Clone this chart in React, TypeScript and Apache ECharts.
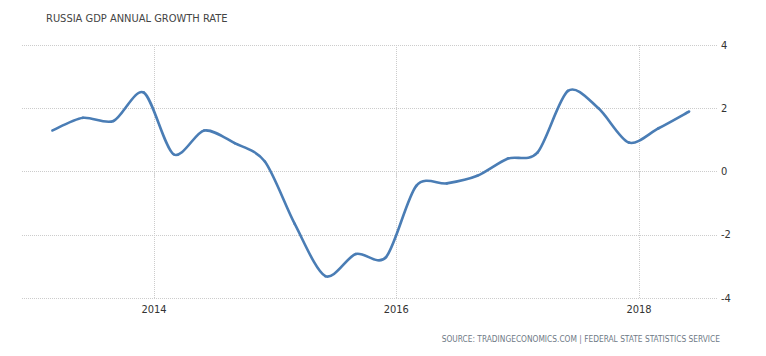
import React, { useEffect, useRef } from "react";
import * as echarts from "echarts";

const dates: string[] = [
  "2013-03-01", "2013-06-01", "2013-09-01", "2013-12-01",
  "2014-03-01", "2014-06-01", "2014-09-01", "2014-12-01",
  "2015-03-01", "2015-06-01", "2015-09-01", "2015-12-01",
  "2016-03-01", "2016-06-01", "2016-09-01", "2016-12-01",
  "2017-03-01", "2017-06-01", "2017-09-01", "2017-12-01",
  "2018-03-01", "2018-06-01",
];
const growth: number[] = [
  1.3, 1.7, 1.6, 2.5,
  0.55, 1.3, 0.9, 0.32,
  -1.65, -3.3, -2.6, -2.7,
  -0.45, -0.37, -0.13, 0.41,
  0.6, 2.55, 2.0, 0.92,
  1.37, 1.9,
];
const xTickDates: string[] = ["2014-01-01", "2016-01-01", "2018-01-01"];
const yTicks: number[] = [-4, -2, 0, 2, 4];

const TITLE = "RUSSIA GDP ANNUAL GROWTH RATE";
const SOURCE = "SOURCE: TRADINGECONOMICS.COM | FEDERAL STATE STATISTICS SERVICE";

const DAY = 86400000;
const LINE_COLOR = "#4a7db5";
const TENSION = 0.145;

type Pt = [number, number];

export default function App() {
  const ref = useRef<HTMLDivElement>(null);
  useEffect(() => {
    if (!ref.current) return;
    const chart = echarts.init(ref.current, null, { renderer: "svg" });
    const tickTs = xTickDates.map((d) => new Date(d + "T00:00:00Z").getTime());
    const xMin = tickTs[0] - 397.6 * DAY;
    const xMax = tickTs[2] + 235 * DAY;
    const font = "'DejaVu Sans Condensed', 'DejaVu Sans', sans-serif";
    const seriesData = dates.map((d, i) => [new Date(d + "T00:00:00Z").getTime(), growth[i]]);
    const n = seriesData.length;

    chart.setOption({
      animation: false,
      backgroundColor: "#ffffff",
      grid: { left: 22, right: 49, top: 45, bottom: 57.7, containLabel: false },
      graphic: [
        {
          type: "text",
          left: 46,
          top: 13,
          style: { text: TITLE, fontFamily: font, fontSize: 11, fill: "#444" },
        },
        {
          type: "text",
          right: 46,
          top: 334.5,
          style: { text: SOURCE, fontFamily: font, fontSize: 8.3, fill: "#6f7a86" },
        },
      ],
      xAxis: {
        type: "value",
        min: xMin,
        max: xMax,
        axisLine: { show: false },
        axisTick: {
          show: true,
          customValues: tickTs,
          length: 5,
          inside: false,
          lineStyle: { color: "#cccccc", type: "dotted" },
        },
        axisLabel: {
          customValues: tickTs,
          margin: 6,
          fontFamily: font,
          fontSize: 11,
          color: "#333",
          formatter: (v: number) => String(new Date(v).getUTCFullYear()),
        },
        splitLine: { show: true, lineStyle: { color: "#cccccc", type: "dotted", width: 1 } },
      },
      yAxis: {
        type: "value",
        position: "right",
        min: yTicks[0],
        max: yTicks[yTicks.length - 1],
        interval: 2,
        axisLine: { show: false },
        axisTick: { show: false },
        axisLabel: { margin: 4, fontFamily: font, fontSize: 11, color: "#333" },
        splitLine: { show: true, lineStyle: { color: "#cccccc", type: "dotted", width: 1 } },
      },
      series: [
        {
          type: "custom",
          data: seriesData,
          encode: { x: 0, y: 1 },
          renderItem: (params: any, api: any) => {
            const i = params.dataIndexInside;
            if (i >= n - 1) return null;
            const pt = (j: number): Pt => {
              const k = Math.max(0, Math.min(n - 1, j));
              return api.coord([api.value(0, k), api.value(1, k)]) as Pt;
            };
            const pm = pt(i - 1);
            const p0 = pt(i);
            const p1 = pt(i + 1);
            const p2 = pt(i + 2);
            return {
              type: "bezierCurve",
              shape: {
                x1: p0[0], y1: p0[1],
                x2: p1[0], y2: p1[1],
                cpx1: p0[0] + TENSION * (p1[0] - pm[0]),
                cpy1: p0[1] + TENSION * (p1[1] - pm[1]),
                cpx2: p1[0] - TENSION * (p2[0] - p0[0]),
                cpy2: p1[1] - TENSION * (p2[1] - p0[1]),
              },
              style: { stroke: LINE_COLOR, lineWidth: 2.6, fill: null, lineCap: "round" },
            };
          },
        },
      ],
    });
    return () => chart.dispose();
  }, []);
  return <div ref={ref} style={{ width: 766, height: 356, position: "absolute", left: 0, top: 0 }} />;
}
